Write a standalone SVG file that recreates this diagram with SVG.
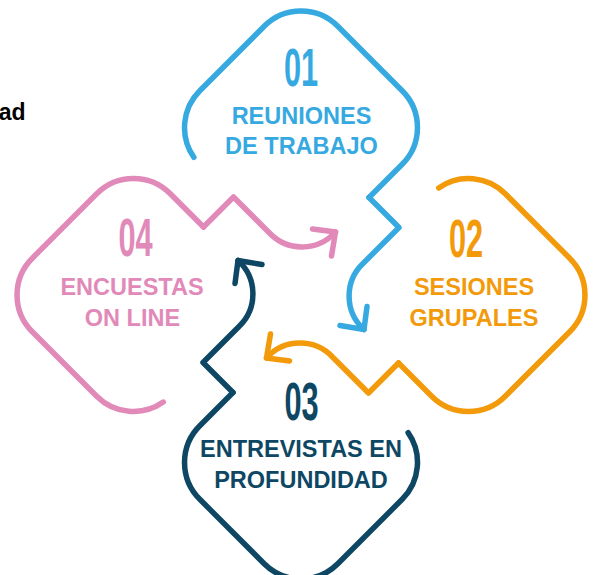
<svg xmlns="http://www.w3.org/2000/svg" xmlns:xlink="http://www.w3.org/1999/xlink" width="595" height="575" viewBox="0 0 595 575">
<style>
.ln{fill:none;stroke-width:5.5;stroke-linecap:round;stroke-linejoin:round}
.lbl{font-family:"Liberation Sans",Arial,sans-serif;font-weight:bold;font-size:23.5px;text-anchor:middle}
.num{font-family:"Liberation Sans",Arial,sans-serif;font-weight:bold;font-size:53px;text-anchor:middle}
.blue{fill:#36A9E1}.orange{fill:#F39A0B}.dark{fill:#0D4763}.pink{fill:#E189B8}
</style>
<defs>
<path id="outline" class="ln" d="M -107.1,29.8 A 52 52 0 0 1 -101.2,-36.8 L -36.8,-101.2 A 52 52 0 0 1 36.8,-101.2 L 101.2,-36.8 A 52 52 0 0 1 101.2,36.8 L 68,70"/>
<path id="link" class="ln" d="M 68,70 L 98,100 L 62,136 A 45 45 0 0 0 63,202"/>
<path id="head" class="ln" d="M 39,198 L 63,202 L 66,179"/>
</defs>
<rect width="595" height="575" fill="#ffffff"/>
<text x="25.5" y="120" font-family="Liberation Sans,Arial,sans-serif" font-weight="bold" font-size="23" text-anchor="end" fill="#000">ad</text>
<g id="node-01">
<use xlink:href="#outline" stroke="#36A9E1" transform="translate(301,295) rotate(0) translate(0,-167.5)"/>
<text class="num blue" transform="translate(301,86) scale(0.58,1)">01</text>
<text class="lbl blue" x="301.5" y="124">REUNIONES</text>
<text class="lbl blue" x="301.5" y="154">DE TRABAJO</text>
</g>
<g id="node-02">
<use xlink:href="#outline" stroke="#F39A0B" transform="translate(301,295) rotate(90) translate(0,-167.5)"/>
<text class="num orange" transform="translate(466,257) scale(0.58,1)">02</text>
<text class="lbl orange" x="474" y="295">SESIONES</text>
<text class="lbl orange" x="474" y="326">GRUPALES</text>
</g>
<g id="node-03">
<use xlink:href="#outline" stroke="#0D4763" transform="translate(301,295) rotate(180) translate(0,-167.5)"/>
<text class="num dark" transform="translate(301.5,420) scale(0.58,1)">03</text>
<text class="lbl dark" x="301" y="457">ENTREVISTAS EN</text>
<text class="lbl dark" x="301" y="488">PROFUNDIDAD</text>
</g>
<g id="node-04">
<use xlink:href="#outline" stroke="#E189B8" transform="translate(301,295) rotate(270) translate(0,-167.5)"/>
<text class="num pink" transform="translate(135.5,256) scale(0.58,1)">04</text>
<text class="lbl pink" x="132" y="295">ENCUESTAS</text>
<text class="lbl pink" x="132.5" y="326">ON LINE</text>
</g>
<g id="connectors">
<g stroke="#36A9E1" transform="translate(301,295) rotate(0) translate(0,-167.5)"><use xlink:href="#link"/><use xlink:href="#head"/></g>
<g stroke="#F39A0B" transform="translate(301,295) rotate(90) translate(0,-167.5)"><use xlink:href="#link"/><use xlink:href="#head"/></g>
<g stroke="#0D4763" transform="translate(301,295) rotate(180) translate(0,-167.5)"><use xlink:href="#link"/><use xlink:href="#head"/></g>
<g stroke="#E189B8" transform="translate(301,295) rotate(270) translate(0,-167.5)"><use xlink:href="#link"/><use xlink:href="#head"/></g>
</g>
</svg>
